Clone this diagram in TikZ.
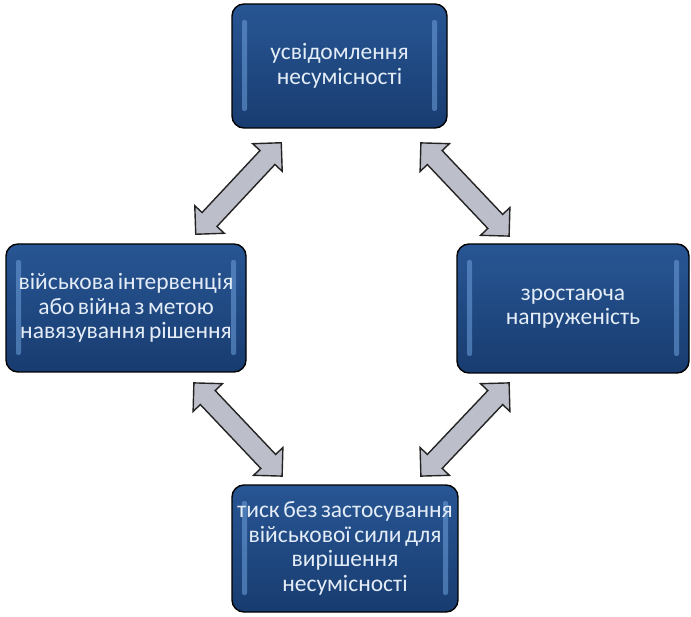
\documentclass[tikz,border=0pt]{standalone}
\usepackage{fontspec}
\setmainfont{Carlito}
\usetikzlibrary{shapes.arrows,calc}

\definecolor{boxtop}{RGB}{40,86,148}
\definecolor{boxmid}{RGB}{31,76,138}
\definecolor{boxbot}{RGB}{24,60,112}
\definecolor{boxglow}{RGB}{110,160,220}
\definecolor{boxtext}{RGB}{228,237,247}
\definecolor{arrowedge}{RGB}{188,190,202}
\definecolor{arrowhi}{RGB}{218,219,227}
\definecolor{arrowline}{RGB}{35,35,35}

\newcommand{\stagefont}{\fontsize{23.5}{24.5}\selectfont\spaceskip=3.5pt plus 1pt\relax}

\tikzset{
  stage/.style={rounded corners=12pt, draw=black, line width=1.4pt,
    top color=boxtop, middle color=boxmid, bottom color=boxbot,
    text=boxtext, align=center, inner sep=0pt,
    font=\stagefont, execute at begin node={\rule{0pt}{24pt}},
    path picture={
      \fill[boxglow, opacity=.55, rounded corners=2pt]
        ($(path picture bounding box.south west)+(10pt,17pt)$) rectangle
        ($(path picture bounding box.north west)+(15pt,-16pt)$);
      \fill[boxglow, opacity=.55, rounded corners=2pt]
        ($(path picture bounding box.south east)+(-10pt,17pt)$) rectangle
        ($(path picture bounding box.north east)+(-15pt,-16pt)$);
    }},
  dblarrow/.style={double arrow, draw=arrowline, line width=1.4pt,
    top color=arrowedge, middle color=arrowhi, bottom color=arrowedge,
    double arrow head extend=10pt, double arrow tip angle=90,
    inner xsep=0pt, inner ysep=9.5pt}
}

\begin{document}
\begin{tikzpicture}[x=1pt, y=-1pt]

  \useasboundingbox (0,0) rectangle (691,617);

  % stages of the cycle
  \node[stage, minimum width=215pt, minimum height=124pt] (aware) at (339.5,66)
    {усвідомлення\\несумісності};
  \node[stage, minimum width=240pt, minimum height=128pt] (force) at (126,308)
    {військова інтервенція\\або війна з метою\\навязування рішення};
  \node[stage, minimum width=232pt, minimum height=129pt] (tension) at (573,308.5)
    {зростаюча\\напруженість};
  \node[stage, minimum width=226pt, minimum height=127pt] (press) at (345,548.5)
    {тиск без застосування\\військової сили для\\вирішення\\несумісності};

  % arrow tips
  \coordinate (a1s) at ($(force.north east)+(-51,-9)$);
  \coordinate (a1e) at ($(aware.south west)+(50,14)$);
  \coordinate (a2s) at ($(aware.south east)+(-27,14)$);
  \coordinate (a2e) at ($(tension.north west)+(53,-7)$);
  \coordinate (a3s) at ($(tension.south west)+(53,9)$);
  \coordinate (a3e) at ($(press.north east)+(-38,-8)$);
  \coordinate (a4s) at ($(force.south east)+(-53,10)$);
  \coordinate (a4e) at ($(press.north west)+(51,-8)$);

  \foreach \i in {1,...,4}
    \path let \p1=(a\i s), \p2=(a\i e),
      \n1={atan2(\y2-\y1,\x2-\x1)}, \n2={veclen(\x2-\x1,\y2-\y1)} in
      node[dblarrow, rotate=\n1, minimum height=\n2] (arr\i)
        at ($(a\i s)!0.5!(a\i e)$) {};

\end{tikzpicture}
\end{document}
